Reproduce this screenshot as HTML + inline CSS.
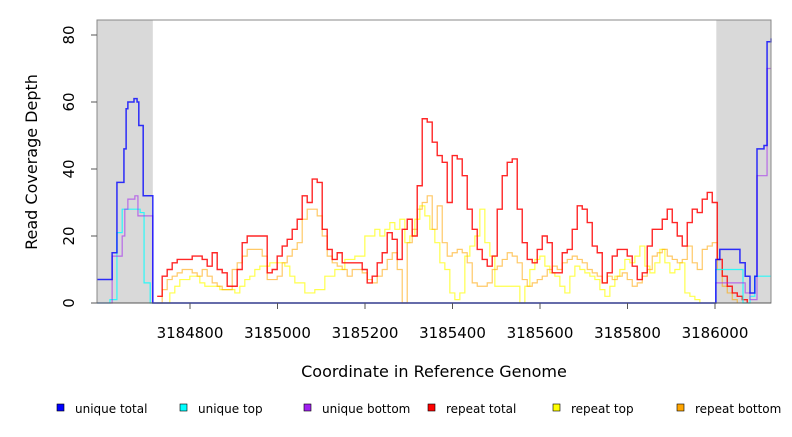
<!DOCTYPE html>
<html><head><meta charset="utf-8"><style>
body{margin:0;background:#fff;font-family:"Liberation Sans","DejaVu Sans",sans-serif}
svg text{font-family:"DejaVu Sans","Liberation Sans",sans-serif}
</style></head><body>
<svg id="chart" width="792" height="432" xmlns="http://www.w3.org/2000/svg">
<rect width="792" height="432" fill="#fff"/>
<g id="plot"></g>
</svg>
<script>
const xTicks=[3184800,3185000,3185200,3185400,3185600,3185800,3186000];
const yTicks=[0,20,40,60,80];
const grayRegions=[[3184587,3184715],[3186003,3186128]];
// repeat series: regular grid (start coordinate, step in bp)
const redStart=3184725, yelStart=3184731, oraStart=3184725, gridStep=11.43;
const redVals=[2,8,10,12,13,13,13,14,14,13,11,15,10,9,5,5,10,18,20,20,20,20,9,10,14,17,19,22,25,32,30,37,36,22,16,13,15,12,12,12,12,10,6,8,12,15,21,19,13,22,25,20,35,55,54,48,44,42,30,44,43,38,28,22,16,13,11,14,28,38,42,43,28,18,13,12,16,20,18,9,9,15,16,22,29,28,24,17,15,6,9,14,16,16,14,11,7,9,17,22,22,25,28,24,20,17,24,28,27,31,33,30,13,8,5,3,2,1,0];
const yelVals=[0,0,3,5,7,7,8,8,6,5,5,5,4,4,4,3,5,7,8,10,11,11,12,12,12,11,8,6,6,3,3,4,4,8,8,10,10,13,13,14,14,20,20,22,20,22,24,22,25,18,20,25,29,26,22,18,12,10,3,1,3,14,17,20,28,18,14,5,5,5,5,5,0,5,10,13,14,11,9,8,5,3,8,11,10,9,8,7,4,2,5,8,10,13,12,14,17,11,9,12,16,12,9,10,12,3,2,1,0];
const oraVals=[0,4,7,8,9,10,10,9,8,10,8,6,5,4,4,10,12,14,16,16,16,14,7,7,8,12,14,16,18,25,28,28,26,20,14,12,11,10,8,10,10,9,7,6,8,10,13,15,10,0,18,22,28,30,32,22,29,18,14,15,16,15,12,6,5,5,6,10,11,13,15,14,12,7,5,6,7,8,10,11,10,12,13,14,13,12,10,9,8,6,8,7,8,9,7,5,6,8,10,14,15,16,14,13,12,13,17,12,10,16,17,18,10,5,3,1,0];
// unique series: breakpoints
const uTotX=[3184587,3184622,3184633,3184649,3184654,3184658,3184672,3184679,3184683,3184693,3184715,3186002,3186011,3186057,3186062,3186069,3186080,3186091,3186096,3186112,3186119,3186128];
const uTotV=[7,15,36,46,58,60,61,60,53,32,0,13,16,12,12,8,3,8,46,47,78,79];
const uTopX=[3184587,3184617,3184633,3184645,3184686,3184695,3184709,3186002,3186064,3186080,3186091,3186128];
const uTopV=[0,1,21,28,27,6,0,10,0,2,8,8];
const uBotX=[3184587,3184622,3184645,3184651,3184658,3184674,3184681,3184715,3186002,3186069,3186080,3186096,3186112,3186119,3186128];
const uBotV=[0,14,20,28,31,32,26,0,6,3,1,38,38,70,70];

const X0=97,X1=771,Y0=20,Y1=303;
function xs(c){return 190+(c-3184800)*0.4375;}
function ys(v){return 303-v*3.35;}
const NS='http://www.w3.org/2000/svg';
const plot=document.getElementById('plot');
function mk(tag,attrs,parent){const e=document.createElementNS(NS,tag);for(const k in attrs)e.setAttribute(k,attrs[k]);(parent||plot).appendChild(e);return e;}

let r=mk('rect',{x:X0,y:Y0,width:X1-X0,height:Y1-Y0,fill:'#fff'});


grayRegions.forEach(g=>{const e=mk('rect',{x:xs(g[0]),y:Y0,width:xs(g[1])-xs(g[0]),height:Y1-Y0,fill:'#d9d9d9'});

});

function stepPath(px,pv){let d='';for(let i=0;i<px.length;i++){const x=xs(px[i]),y=ys(pv[i]);if(i===0)d+='M'+x+' '+y;else d+=' H'+x+' V'+y;}return d;}
function grid(start,vals){return vals.map((v,i)=>start+i*gridStep);}
function series(px,pv,color,name,w,op){const p=mk('path',{d:stepPath(px,pv),fill:'none',stroke:color,'stroke-width':w,'stroke-opacity':op});

}
series(grid(yelStart,yelVals),yelVals,'#ffff00','series-repeat-top',1.2,0.7);
series(grid(oraStart,oraVals),oraVals,'#ffa500','series-repeat-bottom',1.2,0.6);
series(grid(redStart,redVals),redVals,'#ff0000','series-repeat-total',1.4,0.85);
series(uTopX,uTopV,'#00ffff','series-unique-top',1.2,0.8);
series(uBotX,uBotV,'#a020f0','series-unique-bottom',1.2,0.6);
series(uTotX,uTotV,'#0000ff','series-unique-total',1.5,0.8);

let fr=mk('rect',{x:X0,y:Y0,width:X1-X0,height:Y1-Y0,fill:'none',stroke:'#888','stroke-width':1});


mk('line',{x1:X0,y1:Y1,x2:X1,y2:Y1,stroke:'#555'});
xTicks.forEach(t=>{const x=xs(t);mk('line',{x1:x,y1:Y1,x2:x,y2:Y1+6,stroke:'#555'});
const tx=mk('text',{x:x,y:338,'text-anchor':'middle','font-size':15,fill:'#000'});tx.textContent=t;

});
yTicks.forEach(t=>{const y=ys(t);mk('line',{x1:X0-6,y1:y,x2:X0,y2:y,stroke:'#555'});
const tx=mk('text',{x:0,y:0,'text-anchor':'middle','font-size':15,fill:'#000',transform:`translate(74,${y}) rotate(-90)`});tx.textContent=t;

});
let xt=mk('text',{x:434,y:377,'text-anchor':'middle','font-size':16,fill:'#000'});xt.textContent='Coordinate in Reference Genome';


let yt=mk('text',{x:0,y:0,'text-anchor':'middle','font-size':16,fill:'#000',transform:'translate(37,162) rotate(-90)'});yt.textContent='Read Coverage Depth';



const legNames=['unique total','unique top','unique bottom','repeat total','repeat top','repeat bottom'];
const legColors=['#0000ff','#00ffff','#a020f0','#ff0000','#ffff00','#ffa500'];
const legX=[57,180,304,428,553,677];
legNames.forEach((n,i)=>{const g=mk('g',{});


mk('rect',{x:legX[i],y:404,width:7,height:7,fill:legColors[i],stroke:'#000','stroke-width':0.6},g);
const t=mk('text',{x:legX[i]+18,y:413,'font-size':12,fill:'#000'},g);t.textContent=n;});
</script>
</body></html>
